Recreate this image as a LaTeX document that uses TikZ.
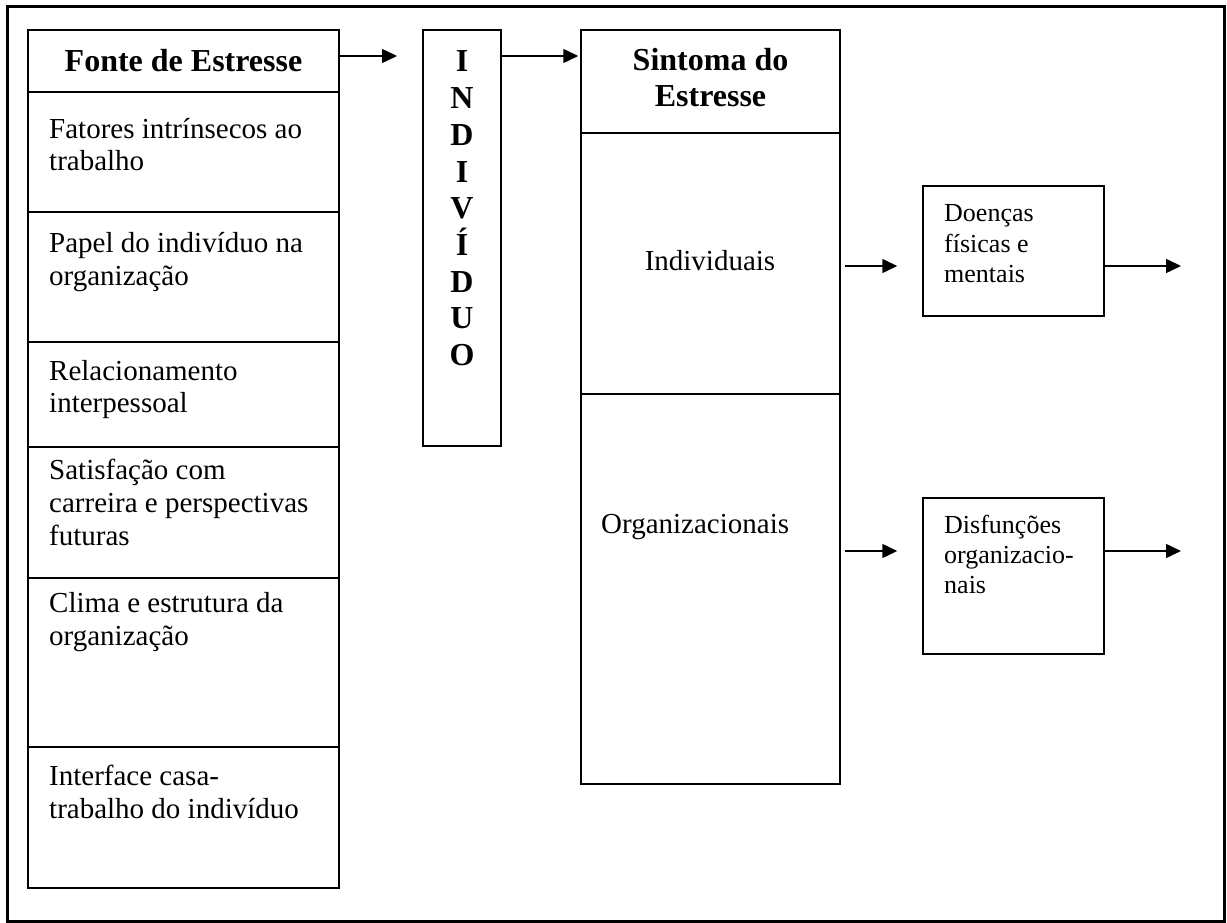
\documentclass[tikz,border=0pt]{standalone}
\usepackage{fontspec}
\setmainfont{Liberation Serif}
\usetikzlibrary{arrows.meta,fit}
\begin{document}
\begin{tikzpicture}[x=1pt,y=-1pt,
  box/.style={draw, line width=1.5pt, inner sep=0pt},
  txt/.style={anchor=base west, inner sep=0pt, font=\fontsize{29}{33}\selectfont},
  ctxt/.style={anchor=base, inner sep=0pt, font=\fontsize{29}{33}\selectfont},
  stxt/.style={anchor=base west, inner sep=0pt, font=\fontsize{26}{30}\selectfont},
  head/.style={anchor=base, inner sep=0pt, font=\fontsize{32}{36}\selectfont\bfseries},
  arr/.style={line width=1.5pt, -{Triangle[length=15pt,width=14pt]}}]
\useasboundingbox (0,0) rectangle (1227,923);
\draw[line width=3pt] (7,7) rectangle (1224,921.5);
% left column
\node[box, fit={(28,30) (339,92)}] (fh) {};
\node[box, fit={(28,92) (339,212)}] (f1) {};
\node[box, fit={(28,212) (339,342)}] (f2) {};
\node[box, fit={(28,342) (339,447)}] (f3) {};
\node[box, fit={(28,447) (339,578)}] (f4) {};
\node[box, fit={(28,578) (339,747)}] (f5) {};
\node[box, fit={(28,747) (339,888)}] (f6) {};
\node[head] (fht) at (183.5,72) {Fonte de Estresse};
\node[txt] (t1a) at (49,139) {Fatores intrínsecos ao};
\node[txt] (t1b) at (49,171) {trabalho};
\node[txt] (t2a) at (49,252) {Papel do indivíduo na};
\node[txt] (t2b) at (49,285) {organização};
\node[txt] (t3a) at (49,380) {Relacionamento};
\node[txt] (t3b) at (49,412) {interpessoal};
\node[txt] (t4a) at (49,479) {Satisfação com};
\node[txt] (t4b) at (49,512) {carreira e perspectivas};
\node[txt] (t4c) at (49,545) {futuras};
\node[txt] (t5a) at (49,612) {Clima e estrutura da};
\node[txt] (t5b) at (49,645) {organização};
\node[txt] (t6a) at (49,785) {Interface casa-};
\node[txt] (t6b) at (49,818) {trabalho do indivíduo};
% individuo
\node[box, fit={(423,30) (501,446)}] (ind) {};
\foreach \l [count=\i] in {I,N,D,I,V,Í,D,U,O}
  \node[head] (ind\i) at (462,{72+36.7*(\i-1)}) {\l};
% sintoma
\node[box, fit={(581,30) (840,133)}] (s0) {};
\node[box, fit={(581,133) (840,394)}] (s1) {};
\node[box, fit={(581,394) (840,784)}] (s2) {};
\node[head] (s0a) at (710.5,71) {Sintoma do};
\node[head] (s0b) at (710.5,107) {Estresse};
\node[ctxt] (s1t) at (710,270) {Individuais};
\node[txt] (s2t) at (601,533) {Organizacionais};
% right boxes
\node[box, fit={(923,186) (1104,316)}] (d1) {};
\node[box, fit={(923,498) (1104,654)}] (d2) {};
\node[stxt] (d1a) at (944,222) {Doenças};
\node[stxt] (d1b) at (944,252) {físicas e};
\node[stxt] (d1c) at (944,282) {mentais};
\node[stxt] (d2a) at (944,533) {Disfunções};
\node[stxt] (d2b) at (944,563) {organizacio-};
\node[stxt] (d2c) at (944,593) {nais};
% connector ends
\coordinate (a1) at (397,56);
\coordinate (b1) at (845,266);
\coordinate (b2) at (1181,266);
\coordinate (c1) at (845,551);
\coordinate (c2) at (1181,551);
\draw[arr] (fh.east |- a1) -- (a1);
\draw[arr, shorten >=2pt] (ind.east |- a1) -- (s0.west |- a1);
\draw[arr, shorten >=25pt] (b1) -- (d1.west |- b1);
\draw[arr] (d1.east |- b2) -- (b2);
\draw[arr, shorten >=25pt] (c1) -- (d2.west |- c1);
\draw[arr] (d2.east |- c2) -- (c2);
\end{tikzpicture}
\end{document}
